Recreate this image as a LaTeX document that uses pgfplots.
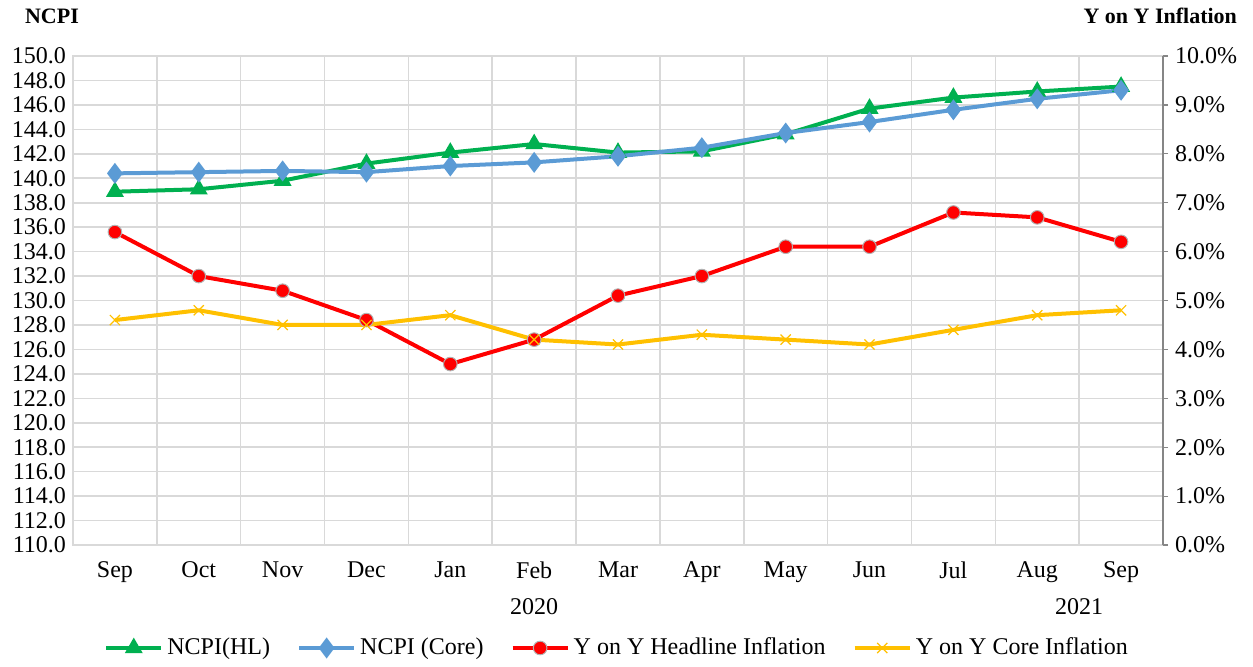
\documentclass[border=0pt]{standalone}
\usepackage{fontspec}
\setmainfont{Liberation Serif}
\usepackage{pgfplots}
\pgfplotsset{compat=1.18}
\definecolor{cgreen}{HTML}{00B050}
\definecolor{cblue}{HTML}{5B9BD5}
\definecolor{cred}{HTML}{FF0000}
\definecolor{cyellow}{HTML}{FFC000}
\definecolor{gridgray}{HTML}{D9D9D9}
\definecolor{axgray}{HTML}{868686}
\begin{document}
\begin{tikzpicture}[font=\fontsize{12}{14}\selectfont]
\useasboundingbox (-36.5pt,-60.5pt) rectangle (590pt,272.5pt);
\begin{axis}[
  at={(0pt,0pt)}, anchor=south west,
  scale only axis, width=545pt, height=244.5pt,
  xmin=-0.5, xmax=12.5, ymin=110, ymax=150,
  xtick={0,...,12},
  xticklabels={Sep,Oct,Nov,Dec,Jan,Feb,Mar,Apr,May,Jun,Jul,Aug,Sep},
  minor xtick={0.5,1.5,...,11.5},
  xminorgrids, ymajorgrids,
  ytick={110,112,...,150},
  /pgf/number format/assume math mode=true,
  yticklabel={\pgfmathprintnumber[fixed,fixed zerofill,precision=1]{\tick}},
  major tick length=0pt, minor tick length=0pt,
  grid style={gridgray, line width=0.8pt},
  minor grid style={gridgray, line width=0.8pt},
  axis line style={gridgray, line width=1.4pt},
  x tick label style={yshift=-5pt},
  clip=false,
]
\addplot[cgreen, line width=2pt, mark=triangle*, mark size=3.2pt, mark options={solid}]
  coordinates {(0,138.9)(1,139.1)(2,139.8)(3,141.2)(4,142.1)(5,142.8)(6,142.1)(7,142.2)(8,143.6)(9,145.7)(10,146.6)(11,147.1)(12,147.5)};
\addplot[cblue, line width=2pt, mark=diamond*, mark size=3.6pt, mark options={solid}]
  coordinates {(0,140.4)(1,140.5)(2,140.6)(3,140.5)(4,141.0)(5,141.3)(6,141.8)(7,142.5)(8,143.7)(9,144.6)(10,145.6)(11,146.5)(12,147.2)};
\node at (axis cs:5,110) [yshift=-31pt] {2020};
\node at (axis cs:11.5,110) [yshift=-31pt] {2021};
\node[anchor=west] at (rel axis cs:0,1) [xshift=-27.5pt, yshift=20pt] {\fontsize{11}{13}\selectfont\bfseries NCPI};
\node[anchor=east] at (rel axis cs:1,1) [xshift=40.5pt, yshift=20pt] {\fontsize{11}{13}\selectfont\bfseries Y on Y Inflation};
\end{axis}
\begin{axis}[
  at={(0pt,0pt)}, anchor=south west,
  scale only axis, width=545pt, height=244.5pt,
  xmin=-0.5, xmax=12.5, ymin=0, ymax=10,
  axis x line=none,
  axis y line*=right,
  ytick={0,1,...,10},
  /pgf/number format/assume math mode=true,
  yticklabel={\pgfmathprintnumber[fixed,fixed zerofill,precision=1]{\tick}\%},
  tick align=outside, major tick length=2.5pt,
  tick style={axgray, line width=0.6pt},
  axis line style={axgray, line width=0.8pt},
  legend style={at={(0.5,0)}, anchor=center, yshift=-51.5pt, draw=none, fill=none,
    legend columns=4, font=\fontsize{12}{14}\selectfont,
    /tikz/every even column/.append style={column sep=11.5pt}},
  legend cell align=left,
  legend image code/.code={\draw[mark repeat=2, mark phase=2, #1] plot coordinates {(0cm,0cm)(0.485cm,0cm)(0.97cm,0cm)};},
]
\addlegendimage{cgreen, line width=2pt, mark=triangle*, mark size=3.2pt}
\addlegendentry{NCPI(HL)}
\addlegendimage{cblue, line width=2pt, mark=diamond*, mark size=3.6pt}
\addlegendentry{NCPI (Core)}
\addplot[cred, line width=2pt, mark=*, mark size=3.4pt, mark options={fill=cred, draw=gray!60, line width=0.5pt}]
  coordinates {(0,6.4)(1,5.5)(2,5.2)(3,4.6)(4,3.7)(5,4.2)(6,5.1)(7,5.5)(8,6.1)(9,6.1)(10,6.8)(11,6.7)(12,6.2)};
\addlegendentry{Y on Y Headline Inflation}
\addplot[cyellow, line width=2pt, mark=x, mark size=3.6pt, mark options={line width=0.6pt}]
  coordinates {(0,4.6)(1,4.8)(2,4.5)(3,4.5)(4,4.7)(5,4.2)(6,4.1)(7,4.3)(8,4.2)(9,4.1)(10,4.4)(11,4.7)(12,4.8)};
\addlegendentry{Y on Y Core Inflation}
\end{axis}
\end{tikzpicture}
\end{document}
